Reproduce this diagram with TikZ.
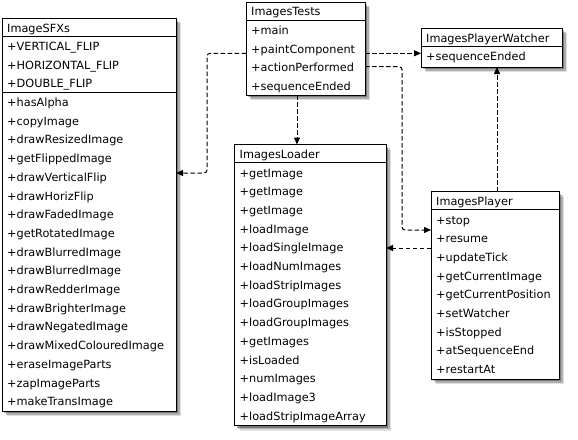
\documentclass[tikz,border=0pt]{standalone}
\usepackage{fontspec}
\setmainfont{DejaVu Sans}
\usetikzlibrary{arrows.meta,shadows}
\begin{document}
\begin{tikzpicture}[x=1pt,y=-1pt,
  classbox/.style={draw=black,line width=1pt,fill=white,inner sep=0pt,outer sep=0pt,anchor=north west,
    drop shadow={shadow xshift=5pt,shadow yshift=-5pt,fill=black,opacity=0.12},
    drop shadow={shadow xshift=3.5pt,shadow yshift=-3.5pt,fill=black,opacity=0.22},
    drop shadow={shadow xshift=2pt,shadow yshift=-2pt,fill=black,opacity=0.3}},
  rowtxt/.style={anchor=base west,inner sep=0pt,font=\fontsize{11.3}{13}\selectfont},
  sepline/.style={line width=0.9pt},
  dep/.style={dashed,dash pattern=on 4.5pt off 2.5pt,line width=1pt,draw=black,rounded corners=3pt,
    -{Triangle[length=7pt,width=6pt]}}]
\useasboundingbox (0,0) rectangle (578,439);
\fill[white] (0,0) rectangle (578,439);

% ImageSFXs
\node[classbox,minimum width=174pt,minimum height=393pt] (sfx) at (2,18) {};
\draw[sepline] (sfx.west |- 0,36) -- (sfx.east |- 0,36);
\draw[sepline] (sfx.west |- 0,92) -- (sfx.east |- 0,92);
\node[rowtxt] (sfxt) at (7,32) {ImageSFXs};
\foreach [count=\i] \t in {+VERTICAL\_FLIP,+HORIZONTAL\_FLIP,+DOUBLE\_FLIP}
  \node[rowtxt] (sfxa\i) at (7,{50.5+(\i-1)*18.7}) {\t};
\foreach [count=\i] \t in {+hasAlpha,+copyImage,+drawResizedImage,+getFlippedImage,+drawVerticalFlip,+drawHorizFlip,+drawFadedImage,+getRotatedImage,+drawBlurredImage,+drawBlurredImage,+drawRedderImage,+drawBrighterImage,+drawNegatedImage,+drawMixedColouredImage,+eraseImageParts,+zapImageParts,+makeTransImage}
  \node[rowtxt] (sfxm\i) at (7,{106.5+(\i-1)*18.7}) {\t};

% ImagesTests
\node[classbox,minimum width=119pt,minimum height=93pt] (tests) at (246,2) {};
\draw[sepline] (tests.west |- 0,20) -- (tests.east |- 0,20);
\node[rowtxt] (testst) at (251,16) {ImagesTests};
\foreach [count=\i] \t in {+main,+paintComponent,+actionPerformed,+sequenceEnded}
  \node[rowtxt] (testsm\i) at (251,{34.5+(\i-1)*18.7}) {\t};

% ImagesPlayerWatcher
\node[classbox,minimum width=141pt,minimum height=39pt] (watch) at (421,28) {};
\draw[sepline] (watch.west |- 0,46) -- (watch.east |- 0,46);
\node[rowtxt] (watcht) at (426,42) {ImagesPlayerWatcher};
\node[rowtxt] (watchm1) at (426,60.5) {+sequenceEnded};

% ImagesLoader
\node[classbox,minimum width=151.5pt,minimum height=281pt] (loader) at (234.5,144.5) {};
\draw[sepline] (loader.west |- 0,162.5) -- (loader.east |- 0,162.5);
\node[rowtxt] (loadert) at (239.5,158.5) {ImagesLoader};
\foreach [count=\i] \t in {+getImage,+getImage,+getImage,+loadImage,+loadSingleImage,+loadNumImages,+loadStripImages,+loadGroupImages,+loadGroupImages,+getImages,+isLoaded,+numImages,+loadImage3,+loadStripImageArray}
  \node[rowtxt] (loaderm\i) at (239.5,{177+(\i-1)*18.7}) {\t};

% ImagesPlayer
\node[classbox,minimum width=128pt,minimum height=187.5pt] (player) at (431,191.5) {};
\draw[sepline] (player.west |- 0,209.5) -- (player.east |- 0,209.5);
\node[rowtxt] (playert) at (436,205.5) {ImagesPlayer};
\foreach [count=\i] \t in {+stop,+resume,+updateTick,+getCurrentImage,+getCurrentPosition,+setWatcher,+isStopped,+atSequenceEnd,+restartAt}
  \node[rowtxt] (playerm\i) at (436,{224+(\i-1)*18.7}) {\t};

% connectors
\draw[dep] (tests.west |- 0,53.3) -- (207,53.3) -- (207,173) -- (sfx.east |- 0,173);
\draw[dep] (tests.south -| 297,0) -- (loader.north -| 297,0);
\draw[dep] (tests.east |- 0,53.3) -- (watch.west |- 0,53.3);
\draw[dep] (tests.east |- 0,66.7) -- (402,66.7) -- (402,230) -- (player.west |- 0,230);
\draw[dep] (player.north -| 497,0) -- (watch.south -| 497,0);
\draw[dep] (player.west |- 0,248) -- (loader.east |- 0,248);
\end{tikzpicture}
\end{document}
